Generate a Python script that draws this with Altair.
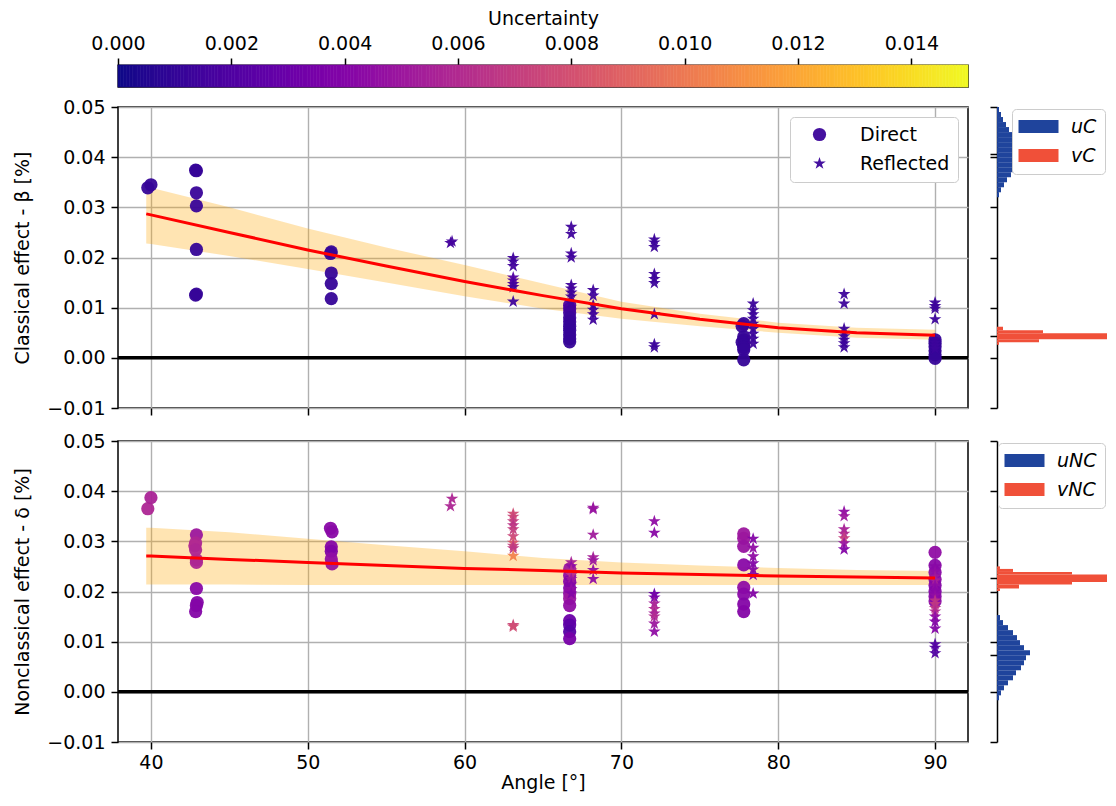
import altair as alt
import pandas as pd
import numpy as np

FONT = "DejaVu Sans"
FS = 19
STAR = ("M0,-1L0.2245,-0.309L0.9511,-0.309L0.3633,0.118L0.5878,0.809L0,0.382"
        "L-0.5878,0.809L-0.3633,0.118L-0.9511,-0.309L-0.2245,-0.309Z")
BARSYM = "M-2.5,-0.82H2.5V0.82H-2.5Z"

# ---------------- scatter data ----------------
top_dir_angle = [39.8, 40.0,
                 42.85, 42.9, 42.9, 42.9, 42.9, 42.85, 42.9,
                 51.5, 51.45, 51.5, 51.5, 51.5,
                 66.7, 66.7, 66.7, 66.7, 66.7, 66.7, 66.7, 66.7, 66.7, 66.7,
                 77.8, 77.7, 77.8, 77.8, 77.7, 77.8, 77.8, 77.8, 77.8,
                 90.0, 90.0, 90.0, 90.0, 90.0, 90.0]
top_dir_value = [0.0339, 0.0345,
                 0.0374, 0.0373, 0.0329, 0.0303, 0.0216, 0.0125, 0.0127,
                 0.0211, 0.0208, 0.0169, 0.0148, 0.0118,
                 0.0105, 0.0098, 0.0090, 0.0080, 0.0072, 0.0063, 0.0055, 0.0046, 0.0038, 0.0032,
                 0.0068, 0.0063, 0.0042, 0.0036, 0.0031, 0.0026, 0.0021, 0.0016, -0.0004,
                 0.0036, 0.0029, 0.0022, 0.0014, 0.0006, -0.0001]
top_dir_unc = [0.0011, 0.0011,
               0.0011, 0.0011, 0.0012, 0.0012, 0.0011, 0.0011, 0.0011,
               0.0011, 0.0011, 0.0011, 0.0011, 0.0011,
               0.0020, 0.0018, 0.0015, 0.0013, 0.0012, 0.0011, 0.0011, 0.0011, 0.0011, 0.0011,
               0.0012, 0.0012, 0.0011, 0.0011, 0.0011, 0.0011, 0.0011, 0.0011, 0.0011,
               0.0011, 0.0011, 0.0011, 0.0011, 0.0011, 0.0011]

top_ref_angle = [59.1, 59.2,
                 63.1, 63.1, 63.1, 63.1, 63.1, 63.1, 63.1, 63.1,
                 66.8, 66.8, 66.8, 66.8, 66.8, 66.8, 66.8, 66.8, 66.8,
                 68.2, 68.2, 68.2, 68.2, 68.2, 68.2,
                 72.1, 72.1, 72.1, 72.1, 72.1, 72.1, 72.1, 72.1, 72.1,
                 78.4, 78.4, 78.4, 78.4, 78.4, 78.4, 78.4, 78.4, 78.4,
                 84.2, 84.2, 84.2, 84.2, 84.2, 84.2, 84.2, 84.2,
                 90.0, 90.0, 90.0, 90.0, 90.0, 90.0, 90.0, 90.0]
top_ref_value = [0.0229, 0.0232,
                 0.0199, 0.0192, 0.0183, 0.0160, 0.0154, 0.0147, 0.0141, 0.0112,
                 0.0261, 0.0247, 0.0208, 0.0200, 0.0145, 0.0138, 0.0130, 0.0122, 0.0110,
                 0.0135, 0.0124, 0.0105, 0.0096, 0.0087, 0.0076,
                 0.0236, 0.0230, 0.0221, 0.0167, 0.0157, 0.0149, 0.0087, 0.0027, 0.0021,
                 0.0108, 0.0095, 0.0087, 0.0078, 0.0068, 0.0058, 0.0048, 0.0038, 0.0028,
                 0.0127, 0.0108, 0.0058, 0.0050, 0.0043, 0.0036, 0.0029, 0.0021,
                 0.0110, 0.0103, 0.0098, 0.0077, 0.0036, 0.0030, 0.0024, 0.0018]
top_ref_unc = [0.0016, 0.0016,
               0.0014, 0.0014, 0.0015, 0.0022, 0.0020, 0.0016, 0.0014, 0.0014,
               0.0014, 0.0014, 0.0015, 0.0014, 0.0014, 0.0016, 0.0014, 0.0014, 0.0014,
               0.0014, 0.0014, 0.0014, 0.0014, 0.0014, 0.0014,
               0.0013, 0.0013, 0.0013, 0.0013, 0.0013, 0.0013, 0.0013, 0.0013, 0.0013,
               0.0013, 0.0013, 0.0013, 0.0013, 0.0013, 0.0013, 0.0013, 0.0013, 0.0013,
               0.0013, 0.0013, 0.0013, 0.0013, 0.0013, 0.0013, 0.0013, 0.0013,
               0.0013, 0.0013, 0.0013, 0.0013, 0.0013, 0.0013, 0.0013, 0.0013]

bot_dir_angle = [39.8, 40.0,
                 42.9, 42.85, 42.8, 42.85, 42.9, 42.9, 42.9, 42.95, 42.9, 42.85,
                 51.45, 51.55, 51.5, 51.5, 51.5, 51.55,
                 66.7, 66.7, 66.7, 66.7, 66.7, 66.7, 66.7, 66.7, 66.7, 66.7, 66.7,
                 77.8, 77.8, 77.8, 77.8, 77.8, 77.8, 77.8, 77.8,
                 90.0, 90.0, 90.0, 90.0, 90.0, 90.0, 90.0, 90.0]
bot_dir_value = [0.0365, 0.0387,
                 0.0313, 0.0297, 0.0291, 0.0283, 0.0263, 0.0258, 0.0206, 0.0178, 0.0172, 0.0160,
                 0.0326, 0.0319, 0.0289, 0.0280, 0.0265, 0.0255,
                 0.0245, 0.0232, 0.0220, 0.0207, 0.0196, 0.0186, 0.0172, 0.0142, 0.0133, 0.0120, 0.0106,
                 0.0315, 0.0306, 0.0290, 0.0253, 0.0208, 0.0195, 0.0175, 0.0160,
                 0.0278, 0.0252, 0.0238, 0.0224, 0.0212, 0.0200, 0.0190, 0.0181]
bot_dir_unc = [0.0058, 0.0056,
               0.0050, 0.0058, 0.0060, 0.0058, 0.0060, 0.0058, 0.0042, 0.0040, 0.0040, 0.0040,
               0.0042, 0.0042, 0.0040, 0.0038, 0.0045, 0.0048,
               0.0050, 0.0045, 0.0040, 0.0040, 0.0045, 0.0050, 0.0045, 0.0030, 0.0025, 0.0022, 0.0035,
               0.0050, 0.0050, 0.0048, 0.0042, 0.0045, 0.0042, 0.0040, 0.0040,
               0.0045, 0.0042, 0.0042, 0.0042, 0.0040, 0.0040, 0.0042, 0.0042]

bot_ref_angle = [59.1, 59.2,
                 63.1, 63.1, 63.1, 63.1, 63.1, 63.1, 63.1, 63.1, 63.1, 63.1, 63.1, 63.1,
                 66.8, 66.8, 66.8, 66.8, 66.8, 66.8, 66.8, 66.8,
                 68.2, 68.2, 68.2, 68.2, 68.2, 68.2, 68.2,
                 72.1, 72.1, 72.1, 72.1, 72.1, 72.1, 72.1, 72.1, 72.1, 72.1,
                 78.4, 78.4, 78.4, 78.4, 78.4, 78.4, 78.4,
                 84.2, 84.2, 84.2, 84.2, 84.2, 84.2, 84.2,
                 90.0, 90.0, 90.0, 90.0, 90.0, 90.0, 90.0, 90.0, 90.0,
                 90.0, 90.0, 90.0, 90.0, 90.0, 90.0, 90.0, 90.0]
bot_ref_value = [0.0370, 0.0385,
                 0.0355, 0.0349, 0.0340, 0.0332, 0.0324, 0.0310, 0.0297, 0.0291, 0.0286, 0.0271, 0.0133, 0.0130,
                 0.0258, 0.0250, 0.0242, 0.0233, 0.0225, 0.0214, 0.0205, 0.0196,
                 0.0367, 0.0364, 0.0313, 0.0268, 0.0262, 0.0243, 0.0225,
                 0.0340, 0.0317, 0.0195, 0.0188, 0.0176, 0.0165, 0.0156, 0.0150, 0.0136, 0.0120,
                 0.0305, 0.0287, 0.0270, 0.0256, 0.0244, 0.0233, 0.0196,
                 0.0359, 0.0350, 0.0324, 0.0315, 0.0306, 0.0296, 0.0284,
                 0.0250, 0.0240, 0.0230, 0.0222, 0.0212, 0.0202, 0.0192, 0.0182, 0.0175,
                 0.0167, 0.0160, 0.0150, 0.0140, 0.0126, 0.0095, 0.0088, 0.0077]
bot_ref_unc = [0.0058, 0.0058,
               0.0078, 0.0075, 0.0070, 0.0065, 0.0070, 0.0075, 0.0085, 0.0072, 0.0068, 0.0105, 0.0075, 0.0078,
               0.0055, 0.0045, 0.0060, 0.0065, 0.0050, 0.0040, 0.0045, 0.0040,
               0.0050, 0.0048, 0.0052, 0.0055, 0.0050, 0.0045, 0.0045,
               0.0045, 0.0042, 0.0030, 0.0035, 0.0055, 0.0060, 0.0055, 0.0060, 0.0050, 0.0045,
               0.0040, 0.0045, 0.0045, 0.0040, 0.0040, 0.0040, 0.0040,
               0.0045, 0.0050, 0.0055, 0.0060, 0.0072, 0.0050, 0.0040,
               0.0042, 0.0045, 0.0050, 0.0055, 0.0045, 0.0042, 0.0045, 0.0065, 0.0068,
               0.0065, 0.0060, 0.0045, 0.0040, 0.0040, 0.0020, 0.0022, 0.0020]

# ---------------- fitted curves ----------------
fit_angle = [39.7, 40, 45, 50, 55, 60, 65, 70, 75, 80, 85, 90]
top_fit = [0.0287, 0.0285, 0.0250, 0.0215, 0.0183, 0.0152, 0.0124, 0.0098, 0.0077, 0.0060, 0.0050, 0.0045]
top_fit_hi = [0.0341, 0.0339, 0.0300, 0.0258, 0.0220, 0.0185, 0.0148, 0.0112, 0.0088, 0.0070, 0.0060, 0.0056]
top_fit_lo = [0.0228, 0.0227, 0.0203, 0.0177, 0.0150, 0.0123, 0.0098, 0.0078, 0.0063, 0.0050, 0.0040, 0.0036]
bot_fit = [0.0271, 0.0271, 0.0264, 0.0258, 0.0252, 0.0246, 0.0242, 0.0237, 0.0234, 0.0231, 0.0229, 0.0227]
bot_fit_hi = [0.0327, 0.0327, 0.0318, 0.0305, 0.0292, 0.0280, 0.0267, 0.0258, 0.0252, 0.0247, 0.0243, 0.0241]
bot_fit_lo = [0.0214, 0.0214, 0.0214, 0.0213, 0.0213, 0.0213, 0.0213, 0.0213, 0.0213, 0.0213, 0.0213, 0.0213]

# ---------------- marginal histograms (bin edges, bar lengths) ----------------
uc_lo = [0.049, 0.048, 0.047, 0.046, 0.045, 0.044, 0.043, 0.042, 0.041,
         0.040, 0.039, 0.038, 0.037, 0.036, 0.035, 0.034, 0.033, 0.032]
uc_hi = [0.050, 0.049, 0.048, 0.047, 0.046, 0.045, 0.044, 0.043, 0.042,
         0.041, 0.040, 0.039, 0.038, 0.037, 0.036, 0.035, 0.034, 0.033]
uc_count = [2, 4, 6, 9, 12, 15, 18, 21, 23, 23, 21, 20, 17, 14, 10, 7, 4, 2]
vc_lo = [0.0055, 0.0049, 0.0037, 0.0031, 0.0026]
vc_hi = [0.0062, 0.0055, 0.0049, 0.0037, 0.0031]
vc_count = [6, 46, 300, 42, 2]
unc_lo = [0.0143, 0.0133, 0.0123, 0.0113, 0.0103, 0.0093, 0.0083, 0.0073, 0.0063,
          0.0053, 0.0043, 0.0033, 0.0023, 0.0013, 0.0003, -0.0007, -0.0017]
unc_hi = [0.0153, 0.0143, 0.0133, 0.0123, 0.0113, 0.0103, 0.0093, 0.0083, 0.0073,
          0.0063, 0.0053, 0.0043, 0.0033, 0.0023, 0.0013, 0.0003, -0.0007]
unc_count = [3, 6, 11, 16, 20, 23, 27, 33, 29, 27, 24, 19, 16, 11, 7, 4, 2]
vnc_lo = [0.0245, 0.0239, 0.0234, 0.0219, 0.0214, 0.0206, 0.0201]
vnc_hi = [0.0250, 0.0245, 0.0239, 0.0234, 0.0219, 0.0214, 0.0206]
vnc_count = [3, 16, 75, 300, 75, 22, 3]
top_means = [0.0407, 0.0044]
bot_means = [0.0226, 0.0073]

cbar_ticks = [0.000, 0.002, 0.004, 0.006, 0.008, 0.010, 0.012, 0.014]
y_ticks = [-0.01, 0.0, 0.01, 0.02, 0.03, 0.04, 0.05]
x_ticks = [40, 50, 60, 70, 80, 90]

# ---------------- helpers ----------------
X_DOMAIN = [37.9, 92.1]
Y_DOMAIN = [-0.01, 0.05]
W, H, HW = 850, 301, 110
UNC = alt.Scale(scheme="plasma", domain=[0, 0.015])
YSC = alt.Scale(domain=Y_DOMAIN, nice=False, zero=False)
XSC = alt.Scale(domain=X_DOMAIN, nice=False, zero=False)
AX = dict(labelFont=FONT, titleFont=FONT, labelFontSize=FS, titleFontSize=FS,
          labelColor="black", titleColor="black", tickColor="black", tickWidth=1.5,
          tickSize=7, titleFontWeight="normal", labelFlush=False)


def main_panel(dir_a, dir_v, dir_u, ref_a, ref_v, ref_u, fit, hi, lo, ytitle, bottom):
    pts = pd.DataFrame({
        "angle": dir_a + ref_a,
        "value": dir_v + ref_v,
        "unc": dir_u + ref_u,
        "kind": ["Direct"] * len(dir_a) + ["Reflected"] * len(ref_a),
    })
    fitdf = pd.DataFrame({"angle": fit_angle, "fit": fit, "hi": hi, "lo": lo})
    zdf = pd.DataFrame({"angle": [X_DOMAIN[0], X_DOMAIN[1]], "z": [0.0, 0.0]})
    xaxis = alt.Axis(values=x_ticks, labels=bottom, title="Angle [°]" if bottom else None,
                     grid=True, gridColor="#b0b0b0", gridWidth=1.4, domain=False,
                     labelPadding=4, titlePadding=1, **AX)
    yaxis = alt.Axis(values=y_ticks, format=".2f", title=ytitle, grid=True,
                     gridColor="#b0b0b0", gridWidth=1.4, domain=False,
                     labelPadding=6, titlePadding=14, **AX)
    X = alt.X("angle:Q", scale=XSC, axis=xaxis)

    def Y(f):
        return alt.Y(f, type="quantitative", scale=YSC, axis=yaxis)

    zero = alt.Chart(zdf).mark_line(color="black", strokeWidth=3.5).encode(x=X, y=Y("z"))
    band = alt.Chart(fitdf).mark_area(color="orange", opacity=0.3).encode(x=X, y=Y("lo"), y2="hi:Q")
    if bottom:
        shape_legend = None
    else:
        shape_legend = alt.Legend(title=None, orient="top-right", offset=10, fillColor="white",
                                  strokeColor="#cccccc", cornerRadius=4, padding=8,
                                  symbolOffset=12, labelOffset=31, rowPadding=9,
                                  labelFontSize=FS, labelFont=FONT, labelColor="black",
                                  symbolSize=175, symbolFillColor="#3b049a",
                                  symbolStrokeColor="#3b049a", symbolStrokeWidth=0)
    scat = alt.Chart(pts).mark_point(filled=True, size=175, opacity=0.95).encode(
        x=X, y=Y("value"),
        color=alt.Color("unc:Q", scale=UNC, legend=None),
        shape=alt.Shape("kind:N", scale=alt.Scale(domain=["Direct", "Reflected"],
                                                  range=["circle", STAR]), legend=shape_legend),
    )
    line = alt.Chart(fitdf).mark_line(color="red", strokeWidth=3).encode(x=X, y=Y("fit"))
    return alt.layer(zero, band, scat, line).properties(
        width=W, height=H, view=alt.ViewBackground(stroke="black", strokeWidth=1.5))


def hist_panel(u_lo, u_hi, u_c, v_lo, v_hi, v_c, names, means):
    df = pd.DataFrame({
        "lo": u_lo + v_lo, "hi": u_hi + v_hi, "count": u_c + v_c,
        "series": [names[0]] * len(u_lo) + [names[1]] * len(v_lo),
    })
    yaxis = alt.Axis(values=y_ticks + means, labels=False, title=None, grid=False,
                     domain=True, domainColor="black", domainWidth=1.5,
                     minExtent=0, labelPadding=0, **AX)
    return alt.Chart(df).mark_rect(clip=True).encode(
        y=alt.Y("lo:Q", scale=YSC, axis=yaxis), y2="hi:Q",
        x=alt.X("count:Q", scale=alt.Scale(domain=[0, HW], nice=False), axis=None),
        x2=alt.datum(0),
        color=alt.Color("series:N", scale=alt.Scale(domain=names, range=["#1f449c", "#f05039"]),
                        legend=alt.Legend(title=None, orient="top-right", offset=2,
                                          fillColor="white", strokeColor="#cccccc",
                                          cornerRadius=4, padding=8, symbolType=BARSYM,
                                          symbolSize=256, symbolOffset=9, labelOffset=23,
                                          rowPadding=9, labelFontSize=FS, labelFont=FONT,
                                          labelFontStyle="italic", labelColor="black",
                                          symbolStrokeWidth=0)),
    ).properties(width=HW, height=H, view=alt.ViewBackground(stroke=None))


# colour bar
cb_edges = np.linspace(0, 0.015, 301)
cbar_df = pd.DataFrame({"lo": cb_edges[:-1], "hi": cb_edges[1:],
                        "mid": (cb_edges[:-1] + cb_edges[1:]) / 2})
cbar = alt.Chart(cbar_df).mark_rect(strokeWidth=0.6).encode(
    x=alt.X("lo:Q", scale=alt.Scale(domain=[0, 0.015], nice=False, zero=False),
            axis=alt.Axis(orient="top", values=cbar_ticks, format=".3f", title="Uncertainty",
                          grid=False, domain=False, labelPadding=5, titlePadding=6, **AX)),
    x2="hi:Q",
    color=alt.Color("mid:Q", scale=UNC, legend=None),
    stroke=alt.Stroke("mid:Q", scale=UNC, legend=None),
).properties(width=W, height=22, view=alt.ViewBackground(stroke="black", strokeWidth=1.4))

top_main = main_panel(top_dir_angle, top_dir_value, top_dir_unc, top_ref_angle, top_ref_value,
                      top_ref_unc, top_fit, top_fit_hi, top_fit_lo,
                      "Classical effect - β [%]", False)
bot_main = main_panel(bot_dir_angle, bot_dir_value, bot_dir_unc, bot_ref_angle, bot_ref_value,
                      bot_ref_unc, bot_fit, bot_fit_hi, bot_fit_lo,
                      "Nonclassical effect - δ [%]", True)
top_hist = hist_panel(uc_lo, uc_hi, uc_count, vc_lo, vc_hi, vc_count, ["uC", "vC"], top_means)
bot_hist = hist_panel(unc_lo, unc_hi, unc_count, vnc_lo, vnc_hi, vnc_count, ["uNC", "vNC"], bot_means)


def indep(c):
    return c.resolve_scale(shape="independent", color="independent", stroke="independent",
                           x="independent", y="independent").resolve_legend(
        shape="independent", color="independent", stroke="independent")


top_row = indep(alt.hconcat(top_main, top_hist, spacing=13))
bot_row = indep(alt.hconcat(bot_main, bot_hist, spacing=13))
panels = indep(alt.vconcat(top_row, bot_row, spacing=12))
chart = indep(alt.vconcat(cbar, panels, spacing=9)).properties(
    padding={"left": 5, "top": 0, "right": 0, "bottom": 0}, background="white"
).configure(font=FONT).configure_view(stroke=None)

chart.save("out.html", embed_options={"renderer": "svg", "actions": False})
